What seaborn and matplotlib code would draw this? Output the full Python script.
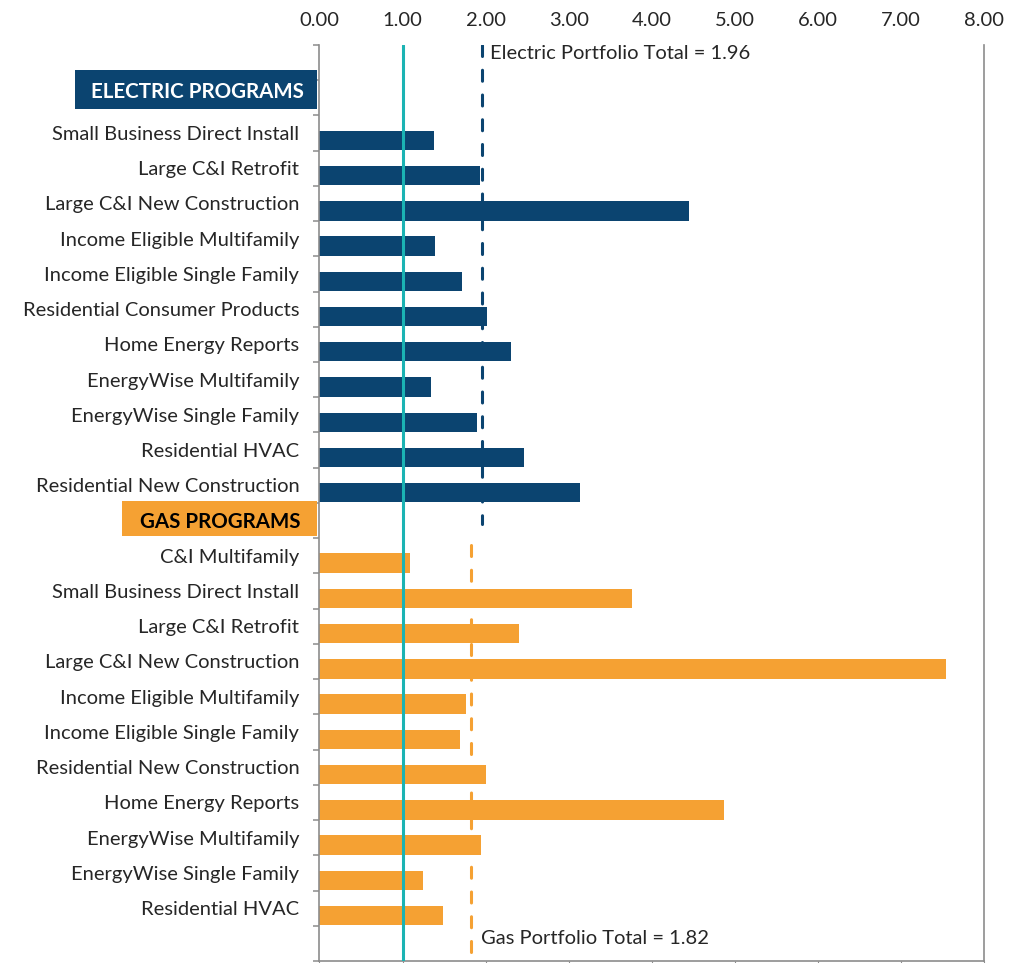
import numpy as np
import pandas as pd
import matplotlib
matplotlib.use("Agg")
import matplotlib.pyplot as plt
import matplotlib.transforms as mtransforms
from matplotlib.patches import Rectangle
import seaborn as sns

# -- data --
electric_programs = [
    "Small Business Direct Install", "Large C&I Retrofit", "Large C&I New Construction",
    "Income Eligible Multifamily", "Income Eligible Single Family",
    "Residential Consumer Products", "Home Energy Reports", "EnergyWise Multifamily",
    "EnergyWise Single Family", "Residential HVAC", "Residential New Construction",
]
electric_bcr = [1.38, 1.93, 4.45, 1.39, 1.71, 2.02, 2.30, 1.34, 1.90, 2.46, 3.14]

gas_programs = [
    "C&I Multifamily", "Small Business Direct Install", "Large C&I Retrofit",
    "Large C&I New Construction", "Income Eligible Multifamily",
    "Income Eligible Single Family", "Residential New Construction",
    "Home Energy Reports", "EnergyWise Multifamily", "EnergyWise Single Family",
    "Residential HVAC",
]
gas_bcr = [1.09, 3.76, 2.40, 7.54, 1.76, 1.69, 2.00, 4.87, 1.94, 1.25, 1.49]

electric_total = 1.96
gas_total = 1.82
breakeven = 1.00
x_ticks = [0, 1, 2, 3, 4, 5, 6, 7, 8]

NAVY = "#0B4470"
ORANGE = "#F5A133"
TEAL = "#1BB3B3"
GREY = "#8C8C8C"
TXT = "#262626"
FS = 14.5

# -- row layout: blank, header, 11 electric, header, 11 gas, blank --
n_el = len(electric_programs)
n_gas = len(gas_programs)
el_header = 1
gas_header = el_header + n_el + 1
n_rows = gas_header + n_gas + 2

row_labels = [""] * n_rows
el_rows = list(range(el_header + 1, el_header + 1 + n_el))
gas_rows = list(range(gas_header + 1, gas_header + 1 + n_gas))
for r, name in zip(el_rows, electric_programs):
    row_labels[r] = name
for r, name in zip(gas_rows, gas_programs):
    row_labels[r] = name

bar_shift = 0.21  # bars sit a little below the label in the original
df = pd.DataFrame({
    "pos": [r + bar_shift for r in el_rows] + [r + bar_shift for r in gas_rows],
    "bcr": electric_bcr + gas_bcr,
    "group": ["Electric"] * n_el + ["Gas"] * n_gas,
})

sns.set_style("white")
plt.rcParams["font.family"] = ["Lato", "DejaVu Sans"]

fig = plt.figure(figsize=(10.26, 9.63), dpi=100)
ax = fig.add_axes([0.3114, 0.0021, 0.9591 - 0.3114, 0.9534 - 0.0021])

sns.barplot(data=df, x="bcr", y="pos", hue="group", orient="h", native_scale=True,
            palette={"Electric": NAVY, "Gas": ORANGE}, dodge=False, width=0.55,
            legend=False, saturation=1, linewidth=0, ax=ax)

# reference lines
ax.axvline(breakeven, color=TEAL, lw=2.2, zorder=5)
ax.plot([electric_total, electric_total], [-0.5, gas_header + 0.1], color=NAVY,
        lw=2.2, dashes=(3.6, 4.5), dash_capstyle="round", zorder=4)
ax.plot([gas_total, gas_total], [gas_header + 0.7, n_rows - 0.5], color=ORANGE,
        lw=2.2, dashes=(3.6, 4.5), dash_capstyle="round", zorder=4)

ax.text(electric_total + 0.09, -0.25, f"Electric Portfolio Total = {electric_total:.2f}",
        fontsize=FS, color=TXT, va="center", ha="left")
ax.text(gas_total + 0.13, n_rows - 1.15, f"Gas Portfolio Total = {gas_total:.2f}",
        fontsize=FS, color=TXT, va="center", ha="left")

# axes
ax.set_xlim(0, 8)
ax.set_ylim(n_rows - 0.5, -0.5)
ax.set_xticks(x_ticks)
ax.set_xticklabels([f"{v:.2f}" for v in x_ticks])
ax.set_yticks(range(n_rows))
ax.set_yticklabels(row_labels)
ax.set_yticks(np.arange(-0.5, n_rows, 1), minor=True)
ax.set_xlabel("")
ax.set_ylabel("")

ax.tick_params(axis="x", which="major", top=False, bottom=True, labeltop=True,
               labelbottom=False, length=4, pad=7.5, color=GREY, labelsize=FS,
               labelcolor=TXT)
ax.tick_params(axis="y", which="major", length=0, pad=14.5, labelsize=FS,
               labelcolor=TXT)
ax.tick_params(axis="y", which="minor", left=True, length=4.5, width=1.1, color=GREY)

ax.spines["top"].set_visible(False)
for s in ["left", "right", "bottom"]:
    ax.spines[s].set_color(GREY)
    ax.spines[s].set_linewidth(1.2)

# section header boxes to the left of the axis
trans = mtransforms.blended_transform_factory(ax.transAxes, ax.transData)
ax.add_patch(Rectangle((-0.368, el_header - 0.79), 0.364, 1.11, transform=trans,
                       facecolor=NAVY, edgecolor="none", clip_on=False, zorder=3))
ax.text(-0.023, el_header - 0.16, "ELECTRIC PROGRAMS", transform=trans, ha="right",
        va="center", fontsize=14.8, fontweight="bold", color="white")
ax.add_patch(Rectangle((-0.297, gas_header - 0.55), 0.293, 0.99, transform=trans,
                       facecolor=ORANGE, edgecolor="none", clip_on=False, zorder=3))
ax.text(-0.029, gas_header + 0.04, "GAS PROGRAMS", transform=trans, ha="right",
        va="center", fontsize=14.8, fontweight="bold", color="black")

fig.savefig("out.png", dpi=100)
